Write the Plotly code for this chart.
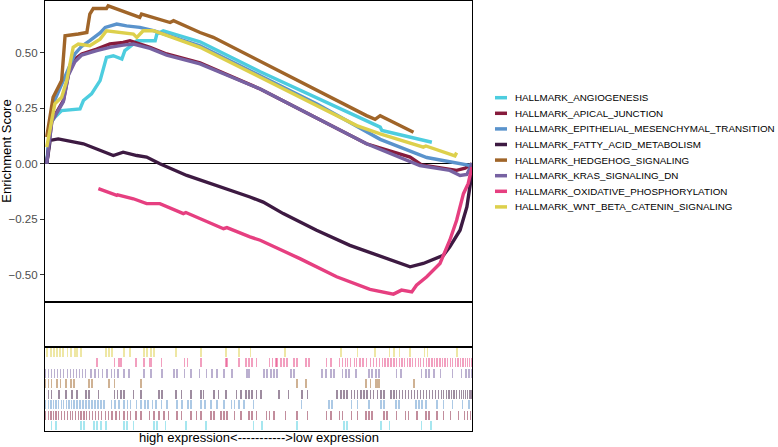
import plotly.graph_objects as go

# gene sets, in legend order (bottom barcode row = first set)
SET_NAMES = [
    "HALLMARK_ANGIOGENESIS",
    "HALLMARK_APICAL_JUNCTION",
    "HALLMARK_EPITHELIAL_MESENCHYMAL_TRANSITION",
    "HALLMARK_FATTY_ACID_METABOLISM",
    "HALLMARK_HEDGEHOG_SIGNALING",
    "HALLMARK_KRAS_SIGNALING_DN",
    "HALLMARK_OXIDATIVE_PHOSPHORYLATION",
    "HALLMARK_WNT_BETA_CATENIN_SIGNALING",
]
SET_COLORS = ["#4DCDDF", "#861B3C", "#5A93CC", "#3D1A42",
              "#A06529", "#7762A2", "#E63F80", "#DDD04C"]

# running enrichment score, x = position in ranked list (% of genes)
ANGIO_X = [0.4, 1.2, 2.3, 3.9, 8.2, 9.0, 10.9, 12.9, 14.4, 16.0, 18.0, 18.7, 20.7, 21.5,
           25.8, 26.2, 27.7, 36.3, 50.4, 78.5, 78.9, 88.6, 90.6]
ANGIO_Y = [0.0, 0.18, 0.21, 0.24, 0.247, 0.285, 0.315, 0.375, 0.48, 0.487, 0.472, 0.51, 0.54, 0.555,
           0.555, 0.585, 0.60, 0.55, 0.415, 0.165, 0.15, 0.105, 0.097]

APICAL_X = [0.4, 1.6, 4.3, 5.5, 7.0, 8.6, 12.1, 15.2, 18.3, 19.9, 24.6, 28.5, 36.3, 50.4,
            75.3, 85.5, 88.2, 96.4, 98.4, 99.5, 100]
APICAL_Y = [0.0, 0.195, 0.285, 0.405, 0.472, 0.495, 0.517, 0.54, 0.547, 0.555, 0.525, 0.495, 0.455, 0.337,
            0.09, 0.03, -0.005, -0.03, -0.02, -0.008, 0.0]

EMT_X = [0.4, 1.9, 7.0, 8.6, 10.5, 12.9, 14.1, 16.8, 19.1, 22.2, 25.4, 36.3, 63.6, 78.5,
         89.4, 93.3, 94.8, 99.5, 100]
EMT_Y = [0.0, 0.27, 0.495, 0.53, 0.555, 0.59, 0.615, 0.63, 0.622, 0.615, 0.60, 0.532, 0.27, 0.11,
         0.028, 0.015, 0.007, -0.008, 0.0]

FATTY_X = [0.4, 1.2, 3.1, 9.0, 16.0, 18.3, 21.5, 23.8, 26.9, 33.2, 48.0, 51.1, 55.8, 63.6,
           71.4, 77.7, 83.1, 85.5, 88.6, 91.7, 93.3, 94.8, 97.2, 98.8, 99.5, 100]
FATTY_Y = [0.0, 0.105, 0.112, 0.09, 0.037, 0.052, 0.037, 0.03, 0.0, -0.053, -0.15, -0.173, -0.225, -0.30,
           -0.368, -0.413, -0.45, -0.465, -0.45, -0.428, -0.413, -0.375, -0.30, -0.195, -0.105, -0.04]

HEDGEHOG_X = [0.4, 1.9, 3.9, 4.7, 7.8, 9.8, 10.5, 11.3, 14.4, 14.8, 22.2, 22.6, 29.3, 30.1,
              36.3, 39.4, 75.3, 77.3, 78.5, 86.3]
HEDGEHOG_Y = [0.12, 0.30, 0.375, 0.577, 0.585, 0.592, 0.675, 0.70, 0.70, 0.712, 0.66, 0.675, 0.637, 0.645,
              0.592, 0.57, 0.217, 0.20, 0.217, 0.142]

KRAS_X = [0.4, 1.6, 4.3, 5.5, 7.0, 8.6, 12.1, 15.2, 18.3, 20.7, 24.6, 28.5, 36.3, 50.4,
          75.3, 84.7, 87.8, 94.8, 97.2, 98.8, 99.9, 100]
KRAS_Y = [0.0, 0.19, 0.28, 0.40, 0.46, 0.49, 0.51, 0.525, 0.535, 0.54, 0.52, 0.49, 0.45, 0.337,
          0.09, 0.015, -0.008, -0.03, -0.053, -0.048, -0.008, 0.0]

OXPHOS_X = [12.5, 16.8, 17.0, 20.7, 23.8, 26.9, 32.4, 33.0, 41.8, 42.6, 48.0, 50.4, 59.7, 68.3,
            76.1, 81.6, 83.5, 85.9, 87.0, 89.4, 92.5, 94.8, 96.4, 98.0, 99.1, 99.9, 100]
OXPHOS_Y = [-0.112, -0.143, -0.14, -0.158, -0.18, -0.18, -0.225, -0.22, -0.293, -0.288, -0.33, -0.345, -0.428, -0.51,
            -0.567, -0.588, -0.57, -0.578, -0.548, -0.51, -0.45, -0.345, -0.255, -0.135, -0.09, -0.03, -0.015]

WNT_X = [0.4, 1.2, 2.3, 3.9, 5.1, 6.6, 7.8, 10.5, 12.9, 14.4, 20.7, 21.5, 22.2, 23.0,
         25.4, 36.3, 50.4, 73.0, 78.5, 88.6, 89.2, 96.0, 96.4]
WNT_Y = [0.075, 0.165, 0.27, 0.30, 0.375, 0.525, 0.54, 0.532, 0.562, 0.60, 0.585, 0.57, 0.585, 0.60,
         0.60, 0.525, 0.39, 0.172, 0.135, 0.075, 0.08, 0.035, 0.05]

# hit positions of each set in the ranked list (%)
ANGIO_HITS = [1.6, 2.6, 8.4, 9.1, 11.5, 12.2, 13.1, 14.3, 18.5, 19.2, 20.8, 25.5, 26.2, 28.3, 33.0,
              37.7, 48.9, 50.8, 59.0, 70.0, 70.7, 78.7, 80.6, 88.1, 90.4]
APICAL_HITS = [0.2, 0.8, 1.4, 2.0, 2.6, 3.2, 3.9, 4.5, 5.2, 5.9, 6.5, 7.2, 7.8, 8.4, 9.1, 9.8, 10.5,
               11.2, 11.9, 12.6, 13.3, 14.1, 14.8, 15.7, 16.6, 17.5, 18.5, 19.4, 20.1, 21.3, 22.5,
               24.4, 25.5, 26.7, 27.9, 29.0, 30.9, 31.9, 34.2, 35.4, 36.5, 38.9, 39.6, 41.2, 41.9,
               42.6, 44.3, 45.9, 47.8, 48.5, 49.6, 51.8, 52.5, 53.6, 56.4, 59.0, 61.4, 66.0, 67.0,
               68.9, 69.6, 71.7, 73.1, 75.2, 75.9, 76.6, 79.4, 80.1, 82.4, 84.5, 85.2, 87.1, 89.2,
               89.9, 91.8, 93.4, 95.0, 96.8, 98.2, 99.0, 99.7]
EMT_HITS = [0.2, 0.8, 1.4, 2.0, 2.6, 3.2, 3.8, 4.4, 5.0, 5.6, 6.2, 6.8, 7.5, 8.2, 8.9, 9.6, 10.3,
            11.0, 11.7, 12.4, 13.1, 13.8, 15.5, 16.4, 17.3, 18.5, 19.4, 20.1, 21.5, 22.5, 23.4,
            24.1, 25.1, 26.0, 27.2, 28.6, 30.9, 32.1, 33.5, 34.2, 36.5, 37.5, 38.9, 40.3, 41.9,
            43.6, 44.3, 45.4, 46.6, 48.9, 60.0, 66.5, 67.2, 71.7, 73.1, 75.9, 78.7, 79.4, 82.2,
            82.9, 86.9, 87.6, 88.3, 89.2, 91.8, 93.4, 95.5, 97.8, 99.3]
FATTY_HITS = [0.9, 1.6, 3.3, 4.9, 6.3, 7.5, 9.6, 10.3, 12.6, 16.2, 16.9, 17.8, 18.5, 20.8, 22.5,
              26.7, 27.4, 30.7, 31.9, 34.2, 36.5, 37.2, 39.6, 40.7, 42.4, 44.9, 45.9, 47.1, 47.8,
              48.5, 49.6, 50.6, 54.8, 57.1, 60.2, 61.4, 68.4, 69.3, 70.0, 70.7, 71.7, 72.4, 73.1,
              74.0, 74.7, 75.4, 76.3, 77.0, 77.8, 78.7, 79.4, 81.0, 81.7, 82.4, 83.1, 83.8, 84.5,
              85.2, 85.9, 86.6, 87.3, 88.0, 88.6, 89.3, 90.0, 90.7, 91.4, 92.1, 92.8, 93.4, 94.0,
              94.6, 95.2, 95.8, 96.4, 97.0, 97.5, 98.0, 98.5, 99.0, 99.5, 99.9]
HEDGEHOG_HITS = [0.2, 0.9, 1.6, 2.8, 3.7, 4.9, 6.1, 6.8, 10.3, 11.0, 15.0, 16.2, 22.5, 59.0, 61.1,
                 75.2, 76.3, 77.5, 77.8, 78.2, 86.4]
KRAS_HITS = [0.2, 0.9, 1.6, 2.3, 3.0, 3.7, 4.4, 5.2, 5.9, 6.6, 7.3, 8.0, 8.7, 9.4, 10.8, 11.7, 12.6,
             13.5, 14.5, 15.5, 16.2, 17.1, 18.5, 19.7, 23.2, 24.8, 27.4, 30.2, 30.9, 32.6, 34.2,
             36.1, 37.9, 39.1, 40.3, 41.9, 43.8, 47.3, 47.8, 51.3, 52.0, 52.9, 53.6, 54.3, 57.6,
             58.3, 64.9, 65.8, 67.0, 67.7, 69.6, 70.5, 71.2, 72.8, 75.9, 76.6, 77.5, 78.2, 82.4,
             83.4, 88.1, 89.2, 89.9, 91.1, 92.7, 95.5, 97.5, 98.6, 99.3, 99.8]
OXPHOS_HITS = [12.2, 16.2, 17.3, 17.8, 21.3, 23.2, 24.4, 24.8, 27.2, 32.6, 33.3, 36.5, 42.4, 42.6,
               45.4, 47.1, 47.8, 48.5, 49.6, 52.5, 53.2, 54.1, 54.3, 55.3, 56.0, 56.7, 58.3, 59.0,
               61.1, 61.8, 66.0, 67.0, 68.9, 69.6, 70.3, 70.9, 71.6, 72.4, 73.0, 73.8, 74.5, 75.3,
               76.3, 77.0, 77.6, 78.3, 79.0, 79.6, 80.3, 81.0, 81.7, 82.3, 83.0, 83.6, 84.2, 84.9,
               85.5, 86.1, 86.8, 87.4, 88.0, 88.7, 89.3, 89.9, 90.6, 91.2, 91.8, 92.5, 93.1, 93.7,
               94.3, 94.9, 95.5, 96.1, 96.7, 97.3, 97.9, 98.4, 98.9, 99.4, 99.9]
WNT_HITS = [0.5, 1.4, 2.1, 2.8, 3.5, 4.2, 5.2, 6.1, 7.0, 7.5, 8.4, 14.3, 15.0, 15.7, 18.5, 19.9,
            23.2, 23.9, 24.8, 25.5, 30.7, 36.5, 42.4, 45.4, 48.2, 56.2, 69.3, 73.1, 77.3, 80.6,
            81.7, 83.1, 85.5, 88.8, 89.5, 96.5]

CURVES = [(ANGIO_X, ANGIO_Y), (APICAL_X, APICAL_Y), (EMT_X, EMT_Y), (FATTY_X, FATTY_Y),
          (HEDGEHOG_X, HEDGEHOG_Y), (KRAS_X, KRAS_Y), (OXPHOS_X, OXPHOS_Y), (WNT_X, WNT_Y)]
HITS = [ANGIO_HITS, APICAL_HITS, EMT_HITS, FATTY_HITS, HEDGEHOG_HITS, KRAS_HITS, OXPHOS_HITS, WNT_HITS]

Y_TICKS = [-0.5, -0.25, 0.0, 0.25, 0.5]
Y_TICK_TEXT = ["\u22120.50", "\u22120.25", "0.00", "0.25", "0.50"]

FONT = "Liberation Sans, Arial, sans-serif"


def rgba(hex_color, alpha):
    h = hex_color.lstrip("#")
    r, g, b = int(h[0:2], 16), int(h[2:4], 16), int(h[4:6], 16)
    return f"rgba({r},{g},{b},{alpha})"


fig = go.Figure()

# running ES lines
for (xs, ys), name, color in zip(CURVES, SET_NAMES, SET_COLORS):
    fig.add_trace(go.Scatter(x=xs, y=ys, mode="lines", name=name,
                             line=dict(color=color, width=3.4),
                             xaxis="x", yaxis="y", showlegend=False))

# empty middle panel, just to get the box
fig.add_trace(go.Scatter(x=[None], y=[None], xaxis="x2", yaxis="y2", showlegend=False))

# barcode rows
for i, (hits, color) in enumerate(zip(HITS, SET_COLORS)):
    fig.add_trace(go.Bar(x=hits, y=[0.9] * len(hits), base=i + 0.05, width=0.3,
                         marker=dict(color=rgba(color, 0.5), line=dict(width=0)),
                         xaxis="x3", yaxis="y3", showlegend=False))

box = dict(showline=True, linecolor="black", linewidth=1.2, mirror=True,
           showgrid=False, zeroline=False)

fig.update_layout(
    width=778, height=447,
    margin=dict(l=45, r=306, t=1, b=16),
    plot_bgcolor="white", paper_bgcolor="white",
    font=dict(family=FONT),
    barmode="overlay", bargap=0,
    showlegend=False,
    xaxis=dict(domain=[0, 1], range=[0, 100], showticklabels=False, ticks="", anchor="y", **box),
    yaxis=dict(domain=[0.2993, 1], range=[-0.625, 0.734], anchor="x",
               tickvals=Y_TICKS, ticktext=Y_TICK_TEXT, ticks="outside", ticklen=4,
               tickcolor="#333333", tickfont=dict(size=11.5, color="#4D4D4D"),
               showline=True, linecolor="black", linewidth=1.2, mirror=True,
               showgrid=False, zeroline=True, zerolinecolor="black", zerolinewidth=1.2),
    xaxis2=dict(domain=[0, 1], range=[0, 100], showticklabels=False, ticks="", anchor="y2", **box),
    yaxis2=dict(domain=[0.1953, 0.2993], range=[0, 1], showticklabels=False, ticks="", anchor="x2", **box),
    xaxis3=dict(domain=[0, 1], range=[0, 100], showticklabels=False, ticks="", anchor="y3", **box),
    yaxis3=dict(domain=[0, 0.1953], range=[0, 8], showticklabels=False, ticks="", anchor="x3", **box),
)

# axis titles
fig.add_annotation(text="Enrichment Score", textangle=-90, xref="paper", yref="paper",
                   x=0, y=(0.2993 + 1) / 2, xanchor="center", yanchor="middle", xshift=-38,
                   showarrow=False, font=dict(size=13, color="black", family=FONT))
fig.add_annotation(text="high expression<----------->low expression", xref="paper", yref="paper",
                   x=0.5, y=0, xanchor="center", yanchor="bottom", yshift=-15, borderpad=0,
                   showarrow=False, font=dict(size=13, color="black", family=FONT))

# legend drawn by hand so the keys are short like ggplot's
plot_h = 447 - 1 - 16
plot_w = 778 - 45 - 306
for k, (name, color) in enumerate(zip(SET_NAMES, SET_COLORS)):
    yc = (431 - (97.7 + 15.6 * k)) / plot_h
    fig.add_shape(type="line", xref="paper", yref="paper",
                  x0=(495 - 45) / plot_w, x1=(507 - 45) / plot_w, y0=yc, y1=yc,
                  line=dict(color=color, width=3.5))
    fig.add_annotation(text=name, xref="paper", yref="paper",
                       x=(513 - 45) / plot_w, y=yc, xanchor="left", yanchor="middle",
                       showarrow=False, font=dict(size=9.8, color="black", family=FONT))

# the page body has an 8px default margin; drop it so the figure sits at the window corner
fig.write_html("out.html", config={"displayModeBar": False},
               post_script="document.body.style.margin = '0';")
